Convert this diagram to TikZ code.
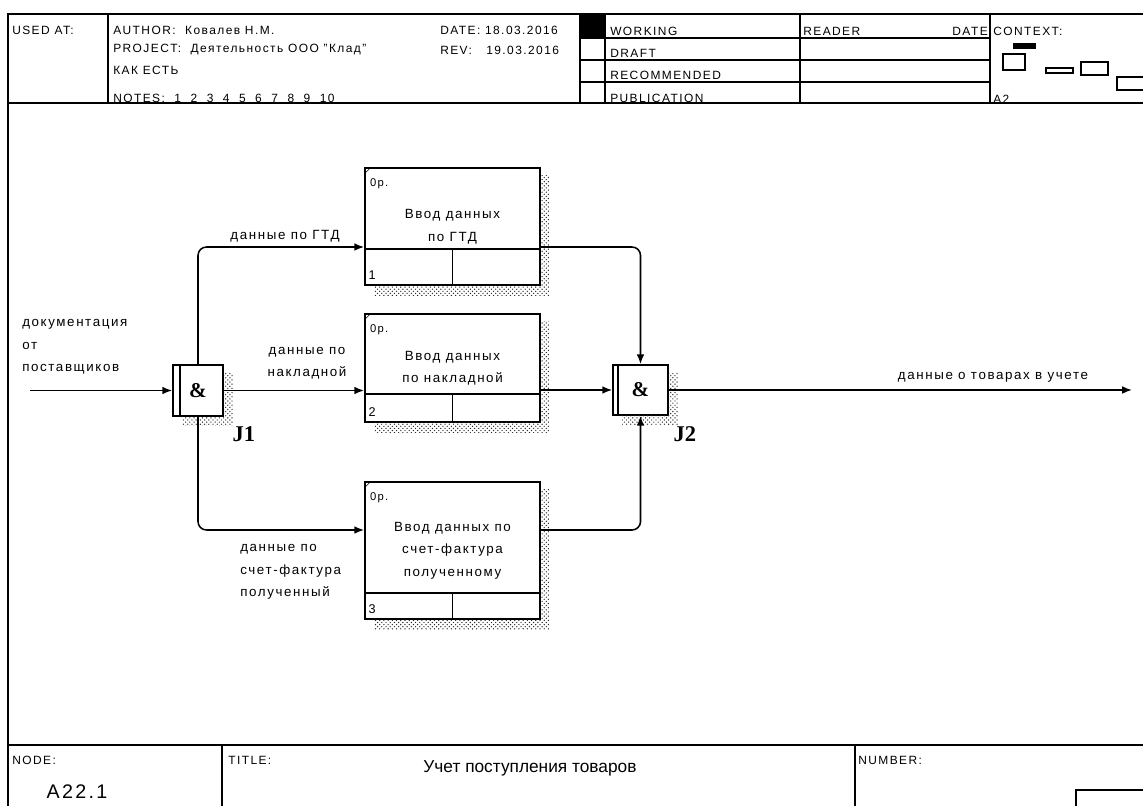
\documentclass[tikz,border=0pt]{standalone}
\usepackage{fontspec}
\setmainfont{Liberation Sans}[LetterSpace=12]
\newfontfamily\serifJ{Liberation Serif}
\newfontfamily\tituloFont{Liberation Sans}
\usetikzlibrary{patterns,arrows.meta}

\begin{document}
\begin{tikzpicture}[
    x=0.025cm, y=-0.025cm,
    % Estilo para los bloques de funciones
    bloque/.style={
        draw,
        line width=1.2pt,
        fill=white,
        minimum width=4.375cm,
        inner sep=0pt,
        align=center,
        font=\fontsize{9.5}{16}\selectfont
    },
    % Estilo para las uniones (&)
    union/.style={
        draw,
        line width=1.2pt,
        fill=white,
        minimum width=1.25cm,
        minimum height=1.275cm,
        inner sep=0pt,
        font=\fontsize{15}{15}\serifJ\bfseries
    },
    % Estilo para las flechas de datos
    flechaDatos/.style={
        -{Latex[length=7pt,width=5.5pt]},
        line width=1.1pt
    },
    % Estilo para las sombras punteadas
    sombra/.style={
        pattern=crosshatch dots,
        pattern color=black!85,
        draw=none
    },
    etiqueta/.style={font=\fontsize{9.5}{16}\selectfont, inner sep=0pt},
    marco/.style={line width=1.2pt},
    cabecera/.style={font=\fontsize{8.5}{10}\selectfont, anchor=west, inner sep=0pt}
]
    \useasboundingbox (0,0) rectangle (1143,806);
    \clip (0,0) rectangle (1143,806);

    % --- CABECERA ---
    \draw[marco] (8,806) -- (8,14) -- (1143,14);
    \draw[marco] (8,103) -- (1143,103);
    \foreach \x in {108,580,605,800,990}
        \draw[marco] (\x,14) -- (\x,103);
    \foreach \y in {38,60,82}
        \draw[marco] (580,\y) -- (990,\y);
    \fill (580,14) rectangle (605,38);

    \node[cabecera] (usado) at (12,30) {USED AT:};
    \node[cabecera] (autor) at (113,30) {AUTHOR:~~Ковалев Н.М.};
    \node[cabecera] (proyecto) at (113,50) {PROJECT:~~Деятельность ООО "Клад"};
    \node[cabecera] (estado) at (113,70) {КАК ЕСТЬ};
    \node[cabecera] (notas) at (113,98) {NOTES:~~1~~2~~3~~4~~5~~6~~7~~8~~9~~10};
    \node[cabecera] (fecha) at (440,30) {DATE: 18.03.2016};
    \node[cabecera] (rev) at (440,50) {REV:~~~19.03.2016};
    \node[cabecera] (working) at (610,31) {WORKING};
    \node[cabecera] (draft) at (610,53) {DRAFT};
    \node[cabecera] (recom) at (610,75) {RECOMMENDED};
    \node[cabecera] (publ) at (610,98) {PUBLICATION};
    \node[cabecera] (lector) at (803,31) {READER};
    \node[cabecera, anchor=east] (fechaL) at (988,31) {DATE};
    \node[cabecera] (contexto) at (993,31) {CONTEXT:};
    \node[cabecera] (ctxA) at (993,99) {A2};

    % --- MINIATURA DEL CONTEXTO ---
    \fill (1013,43) rectangle (1036,49);
    \draw[marco] (1003,54) rectangle (1025,70);
    \draw[marco] (1046,68) rectangle (1073,73);
    \draw[marco] (1081,62) rectangle (1108,75);
    \draw[marco] (1117,77) rectangle (1150,90);

    % --- BLOQUES ---
    \node[bloque, minimum height=2.925cm] (b1) at (452.5,226.5) {Ввод данных\\по ГТД};
    \node[bloque, minimum height=2.7cm]   (b2) at (452.5,368)   {Ввод данных\\по накладной};
    \node[bloque, minimum height=3.425cm] (b3) at (452.5,550.5) {Ввод данных по\\счет-фактура\\полученному};

    \foreach \n/\h/\k in {b1/0.925cm/1, b2/0.725cm/2, b3/0.675cm/3} {
        \fill[sombra] ([yshift=-0.2cm]\n.north east) rectangle ([xshift=0.2cm,yshift=-0.25cm]\n.south east);
        \fill[sombra] ([xshift=0.25cm]\n.south west) rectangle ([yshift=-0.25cm]\n.south east);
        \draw[marco] ([yshift=\h]\n.south west) -- ([yshift=\h]\n.south east);
        \draw[marco] ([yshift=\h]\n.south) -- (\n.south);
        \draw ([yshift=-0.175cm]\n.north west) -- ([xshift=0.175cm]\n.north west);
        \node[anchor=north west, inner sep=0pt, font=\fontsize{8}{8}\selectfont] at ([xshift=4pt,yshift=-8pt]\n.north west) {0р.};
        \node[anchor=south west, inner sep=0pt, font=\fontsize{9}{9}\selectfont] at ([xshift=3pt,yshift=4pt]\n.south west) {\k};
    }

    % --- UNIONES ---
    \node[union] (j1) at (198,390.5) {\&};
    \node[union, minimum width=1.375cm, minimum height=1.25cm] (j2) at (640.5,390) {\&};
    \draw[marco] ([xshift=0.2cm]j1.north west) -- ([xshift=0.2cm]j1.south west);
    \draw[marco] ([xshift=0.15cm]j2.north west) -- ([xshift=0.15cm]j2.south west);
    \foreach \n in {j1,j2} {
        \fill[sombra] ([yshift=-0.2cm]\n.north east) rectangle ([xshift=0.22cm,yshift=-0.22cm]\n.south east);
        \fill[sombra] ([xshift=0.25cm]\n.south west) rectangle ([yshift=-0.22cm]\n.south east);
    }
    \node[font=\fontsize{16}{16}\serifJ\bfseries] (nj1) at ([xshift=0.5cm,yshift=-0.43cm]j1.south east) {J1};
    \node[font=\fontsize{16}{16}\serifJ\bfseries] (nj2) at ([xshift=0.4cm,yshift=-0.45cm]j2.south east) {J2};

    % --- FLECHAS ---
    \coordinate (entrada) at (30,390.5);
    \coordinate (salida) at (1132,390);
    \draw[flechaDatos] (entrada) -- (j1.west);
    \draw[flechaDatos, rounded corners=6pt] (j1.north) |- ([yshift=-0.5125cm]b1.west);
    \draw[flechaDatos] (j1.east) -- (j1.east -| b2.west);
    \draw[flechaDatos, rounded corners=6pt] (j1.south) |- ([yshift=0.5125cm]b3.west);
    \draw[flechaDatos, rounded corners=6pt] ([yshift=-0.5125cm]b1.east) -| (j2.north);
    \draw[flechaDatos] (j2.west -| b2.east) -- (j2.west);
    \draw[flechaDatos, rounded corners=6pt] ([yshift=0.5125cm]b3.east) -| (j2.south);
    \draw[flechaDatos] (j2.east) -- (salida);

    % --- ETIQUETAS ---
    \node[etiqueta, align=left, anchor=west] (lDoc) at (22,347) {документация\\от\\поставщиков};
    \node[etiqueta] (lGTD) at (285,236) {данные по ГТД};
    \node[etiqueta, align=center] (lNakl) at (307,363) {данные по\\накладной};
    \node[etiqueta, align=left, anchor=west] (lSchet) at (240,572) {данные по\\счет-фактура\\полученный};
    \node[etiqueta] (lSalida) at (993,377) {данные о товарах в учете};

    % --- PIE ---
    \draw[marco] (8,745) -- (1143,745);
    \foreach \x in {222,855}
        \draw[marco] (\x,745) -- (\x,806);
    \draw[marco] (1076,810) |- (1150,790);
    \node[cabecera] (nodo) at (12,760) {NODE:};
    \node[font=\fontsize{14}{14}\selectfont] (nodoNum) at (77,792) {A22.1};
    \node[cabecera] (titulo) at (228,760) {TITLE:};
    \node[font=\fontsize{12.3}{12}\tituloFont] (tituloTxt) at (530,768) {Учет поступления товаров};
    \node[cabecera] (numero) at (858,760) {NUMBER:};
\end{tikzpicture}
\end{document}
